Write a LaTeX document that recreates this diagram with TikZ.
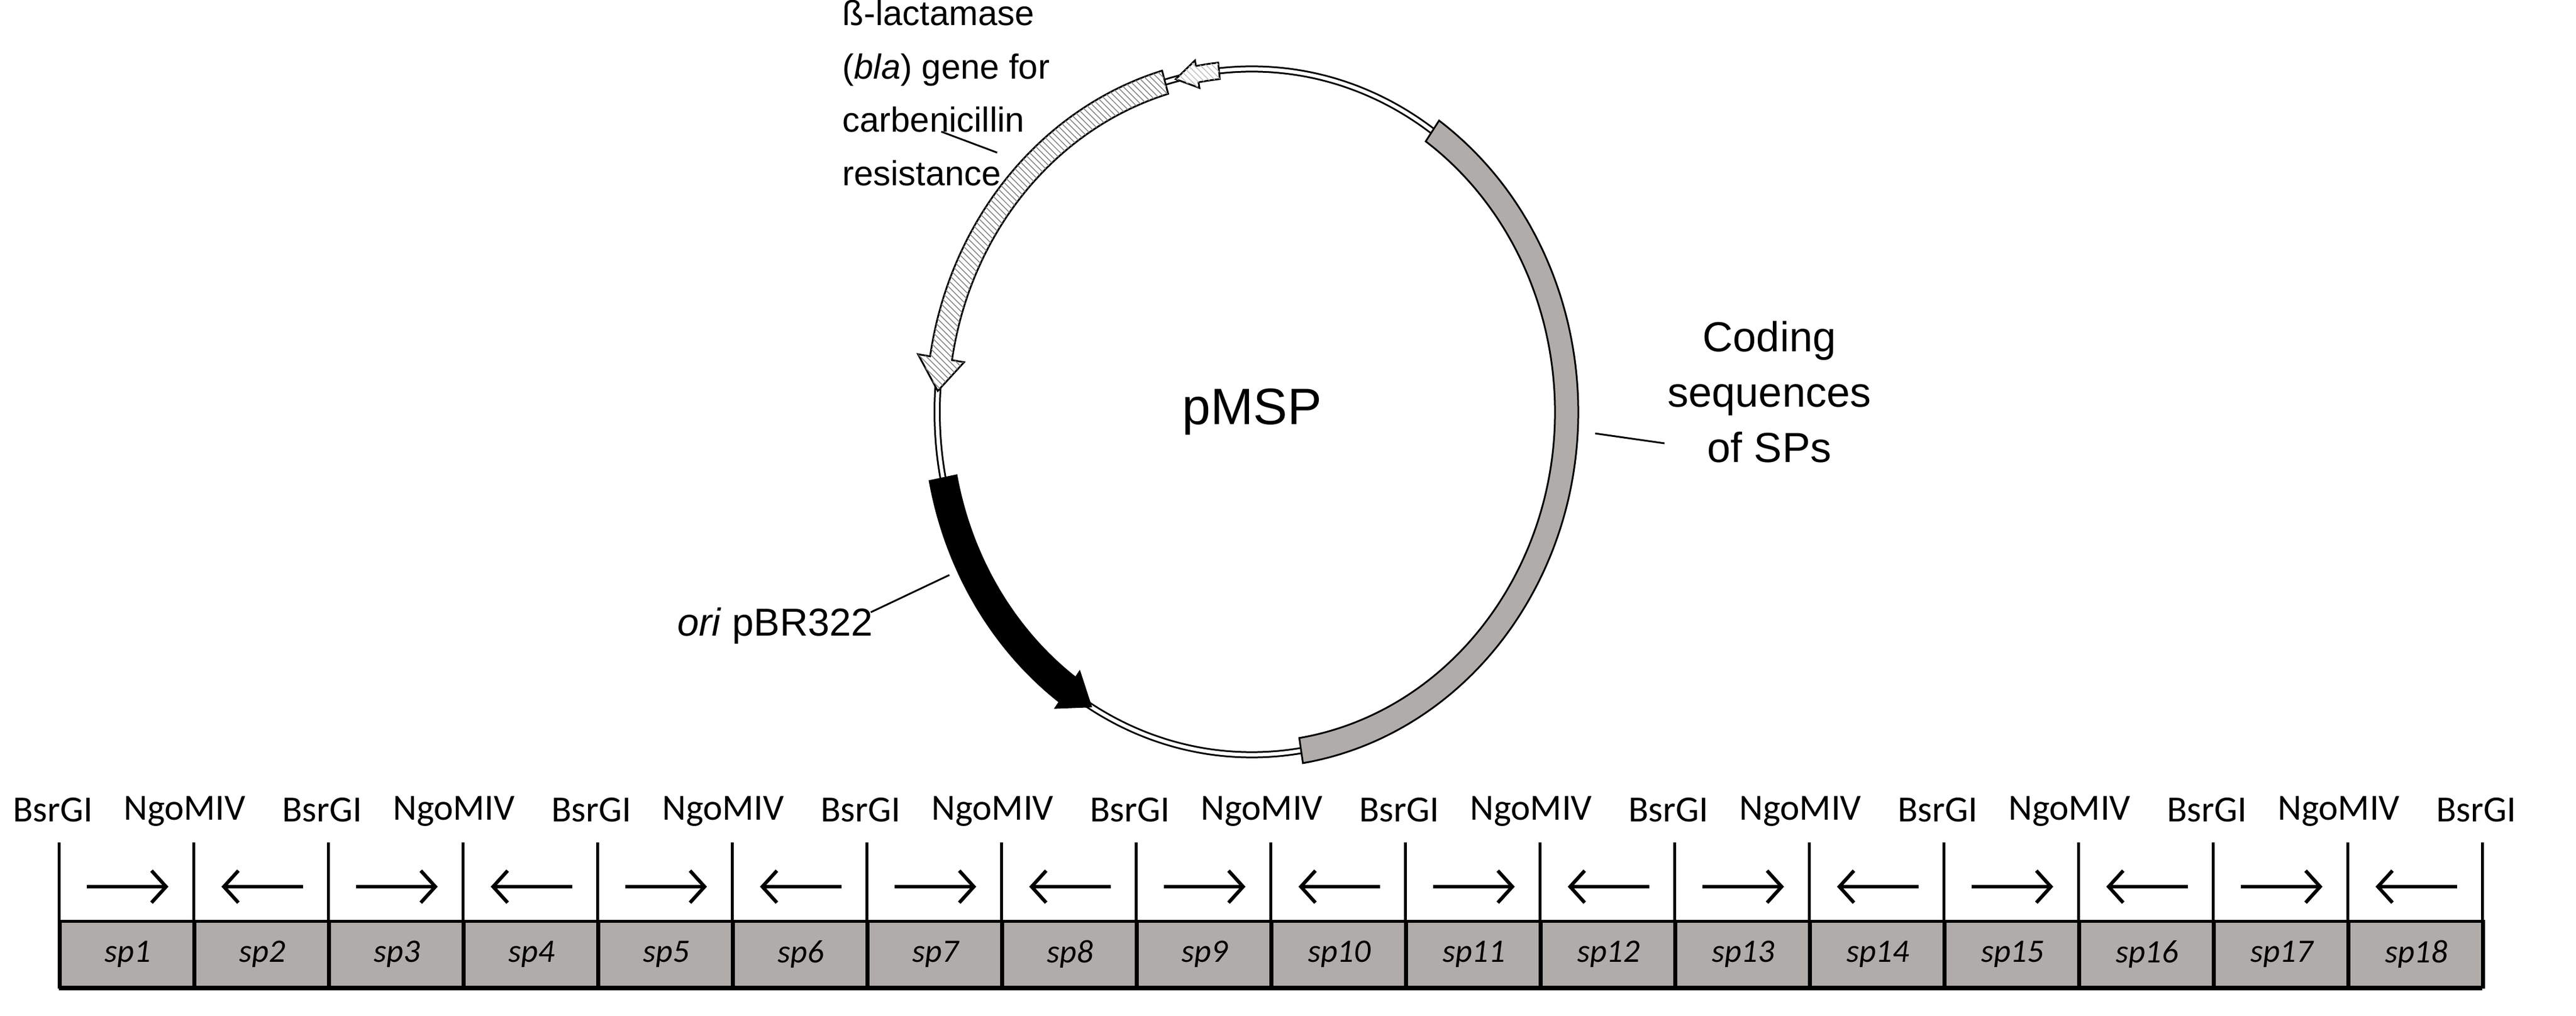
\documentclass[tikz,border=0pt]{standalone}
\usepackage{fontspec}
\setmainfont{Liberation Sans}
\newfontfamily\calib{Carlito}
\usetikzlibrary{arrows.meta,patterns}
\definecolor{bandgray}{HTML}{B0ACA9}
\begin{document}
\begin{tikzpicture}
\def\colw{2.31}
\def\rad{5.4}
\tikzset{lbl/.style={font=\fontsize{19}{26}\selectfont,align=left,inner sep=0},
site/.style={font=\calib\fontsize{18}{20}\selectfont,inner sep=0},
spbox/.style={draw,line width=0.05cm,fill=bandgray,minimum width=\colw cm,minimum height=1.13cm,
  font=\calib\itshape\fontsize{16}{18}\selectfont,anchor=south west,inner sep=0},
barb/.style={-{Straight Barb[length=0.25cm,width=0.55cm,line width=0.06cm]}},
dir/.style={line width=0.06cm},
leader/.style={line width=0.03cm},
every path/.style={line join=miter}}
\useasboundingbox (0,0) rectangle (44.2,17.43);
% plasmid map
\begin{scope}[shift={(21.48,10.36)},yscale=1.09]
\node[font=\fontsize{25}{30}\selectfont] (name) at (0,0) {pMSP};
\draw[line width=0.12cm] (0,0) circle (\rad);
\draw[line width=0.06cm,white] (0,0) circle (\rad);
% coding sequences
\draw[line width=0.03cm,fill=bandgray] (55:\rad+0.2) arc[start angle=55,end angle=-81,radius=\rad+0.2]
  -- (-81:\rad-0.2) arc[start angle=-81,end angle=55,radius=\rad-0.2] -- cycle;
% bla gene
\draw[line width=0.03cm,fill=white] (96:\rad+0.13) arc[start angle=96,end angle=100,radius=\rad+0.13]
  -- (100:\rad+0.22) -- (104:\rad) -- (100:\rad-0.22) -- (100:\rad-0.13)
  arc[start angle=100,end angle=96,radius=\rad-0.13] -- cycle;
\fill[pattern=north west lines,pattern color=gray!50] (96:\rad+0.13) arc[start angle=96,end angle=100,radius=\rad+0.13]
  -- (100:\rad+0.22) -- (104:\rad) -- (100:\rad-0.22) -- (100:\rad-0.13)
  arc[start angle=100,end angle=96,radius=\rad-0.13] -- cycle;
\draw[line width=0.03cm,fill=white] (106:\rad+0.19) arc[start angle=106,end angle=171,radius=\rad+0.19]
  -- (171:\rad+0.4) -- (176.5:\rad) -- (171:\rad-0.4) -- (171:\rad-0.19)
  arc[start angle=171,end angle=106,radius=\rad-0.19] -- cycle;
\fill[pattern=north west lines,pattern color=gray] (106:\rad+0.19) arc[start angle=106,end angle=171,radius=\rad+0.19]
  -- (171:\rad+0.4) -- (176.5:\rad) -- (171:\rad-0.4) -- (171:\rad-0.19)
  arc[start angle=171,end angle=106,radius=\rad-0.19] -- cycle;
% ori
\fill (191:\rad+0.25) arc[start angle=191,end angle=234,radius=\rad+0.25]
  -- (234:\rad+0.38) -- (239.5:\rad) -- (234:\rad-0.38) -- (234:\rad-0.25)
  arc[start angle=234,end angle=191,radius=\rad-0.25] -- cycle;
\end{scope}
\node[lbl,anchor=north west,font=\fontsize{17}{26}\selectfont] (bla) at (14.45,17.43) {ß-lactamase\\(\textit{bla}) gene for\\carbenicillin\\resistance};
\node[lbl,align=center,font=\fontsize{20.5}{27}\selectfont] (cod) at (30.36,10.7) {Coding\\sequences\\of SPs};
\node[lbl] (ori) at (13.3,6.69) {\textit{ori} pBR322};
\coordinate (blastart) at (16.15,15.17);
\coordinate (blaend) at (17.11,14.81);
\coordinate (codend) at (27.37,9.99);
\coordinate (codstart) at (28.56,9.82);
\coordinate (oristart) at (14.94,6.92);
\coordinate (oriend) at (16.29,7.56);
\draw[leader] (blastart) -- (blaend);
\draw[leader] (codend) -- (codstart);
\draw[leader] (oristart) -- (oriend);
% cassette
\foreach \i in {1,...,18}{
  \node[spbox] (sp\i) at ({1.01+(\i-1)*\colw},0.46) {sp\i};
}
\foreach \k in {0,...,18}{
  \coordinate (top\k) at ({1.01+\k*\colw},2.97);
  \coordinate (bot\k) at ({1.01+\k*\colw},0.46);
  \draw[line width=0.05cm] (top\k) -- (bot\k);
}
\draw[line width=0.06cm] (bot0) -- (bot18);
\foreach \k in {0,2,...,18}{
  \node[site] (bsr\k) at ({1.01+\k*\colw-0.1},3.53) {BsrGI};
}
\foreach \k in {1,3,...,17}{
  \node[site] (ngo\k) at ({1.01+\k*\colw-0.15},3.5) {NgoMIV};
}
\foreach \i in {1,...,18}{
  \coordinate (a\i) at ([xshift=-0.7cm]sp\i.center|-0,2.21);
  \coordinate (b\i) at ([xshift=0.7cm]sp\i.center|-0,2.21);
}
\foreach \i in {1,3,...,17}{
  \draw[dir,barb] (a\i) -- (b\i);
}
\foreach \i in {2,4,...,18}{
  \draw[dir,barb] (b\i) -- (a\i);
}
\end{tikzpicture}
\end{document}
